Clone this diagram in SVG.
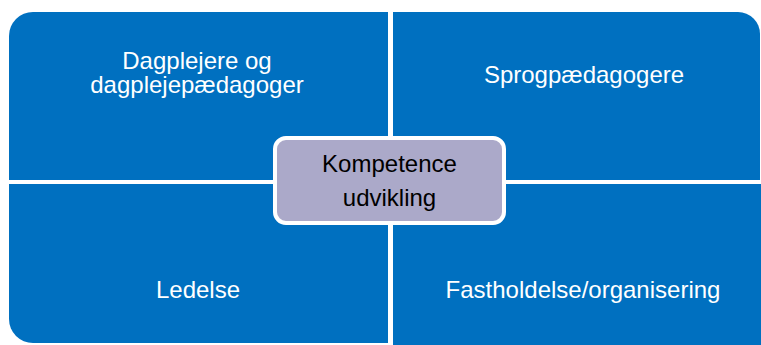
<svg xmlns="http://www.w3.org/2000/svg" width="761" height="345" viewBox="0 0 761 345">
<style>
.q{fill:#0070C0}
.qt{font-family:"Liberation Sans",Arial,sans-serif;font-size:24px;fill:#ffffff;text-anchor:middle}
.ct{font-family:"Liberation Sans",Arial,sans-serif;font-size:24px;fill:#000000;text-anchor:middle}
</style>
<rect width="761" height="345" fill="#ffffff"/>
<g id="q-dagplejere">
<path class="q" d="M9,36 A24,24 0 0 1 33,12 L388,12 L388,180 L9,180 Z"/>
<text class="qt" x="197" y="69">Dagplejere og</text>
<text class="qt" x="197" y="93">dagplejepædagoger</text>
</g>
<g id="q-sprog">
<path class="q" d="M393,12 L738,12 A22,22 0 0 1 760,34 L760,180 L393,180 Z"/>
<text class="qt" x="584" y="83">Sprogpædagogere</text>
</g>
<g id="q-ledelse">
<path class="q" d="M9,184 L388,184 L388,343 L33,343 A24,24 0 0 1 9,319 Z"/>
<text class="qt" x="198" y="298">Ledelse</text>
</g>
<g id="q-fasthold">
<path class="q" d="M393,184 L761,184 L761,345 L393,345 Z"/>
<text class="qt" x="583" y="298">Fastholdelse/organisering</text>
</g>
<g id="center">
<rect x="275" y="138" width="229" height="85" rx="11" fill="#ABA9C9" stroke="#ffffff" stroke-width="4"/>
<text class="ct" x="389.5" y="172">Kompetence</text>
<text class="ct" x="389.5" y="206">udvikling</text>
</g>
<g id="connectors"/>
</svg>
